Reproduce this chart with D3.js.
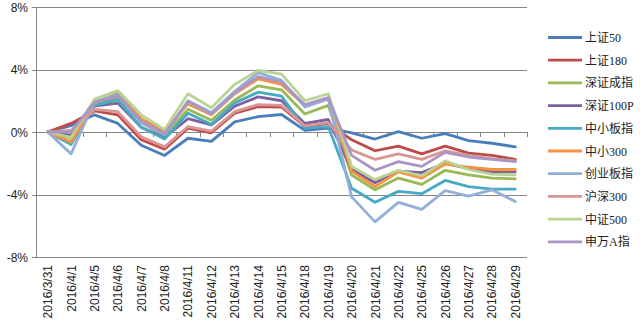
<!DOCTYPE html>
<html><head><meta charset="utf-8">
<script src="https://cdn.jsdelivr.net/npm/d3@7"></script>
<style>body{margin:0;background:#fff}svg{display:block}</style>
</head><body>
<svg id="c" width="640" height="323"></svg>
<script>
const categories = ["2016/3/31","2016/4/1","2016/4/5","2016/4/6","2016/4/7","2016/4/8","2016/4/11","2016/4/12","2016/4/13","2016/4/14","2016/4/15","2016/4/18","2016/4/19","2016/4/20","2016/4/21","2016/4/22","2016/4/25","2016/4/26","2016/4/27","2016/4/28","2016/4/29"];
const seriesNames = ["上证50","上证180","深证成指","深证100P","中小板指","中小300","创业板指","沪深300","中证500","申万A指"];
const seriesColors = ["#4A7EBB","#BE4B48","#98B954","#7D60A0","#46AAC5","#F69240","#93AFD8","#D99694","#B9D393","#A996C4"];
const yTicks = [-8,-4,0,4,8];

const sz50   = [0, 0.40, 1.10, 0.55, -0.85, -1.50, -0.40, -0.60, 0.65, 0.98, 1.12, 0.10, 0.25, -0.05, -0.45, 0.02, -0.40, -0.10, -0.55, -0.72, -0.95];
const sz180  = [0, 0.55, 1.35, 1.10, -0.50, -1.10, 0.25, -0.05, 1.20, 1.62, 1.60, 0.35, 0.55, -0.50, -1.20, -0.90, -1.40, -0.90, -1.35, -1.50, -1.75];
const szcz   = [0, -0.40, 1.80, 2.20, 0.60, -0.25, 1.45, 0.75, 2.05, 2.95, 2.70, 1.15, 1.70, -2.75, -3.70, -2.95, -3.35, -2.45, -2.75, -2.95, -3.00];
const sz100p = [0, -0.20, 1.65, 1.85, 0.30, -0.35, 0.85, 0.45, 1.65, 2.25, 2.00, 0.55, 0.80, -2.40, -3.25, -2.50, -2.60, -2.00, -2.35, -2.55, -2.55];
const zxb    = [0, -0.80, 1.70, 2.05, 0.30, -0.45, 1.20, 0.50, 1.85, 2.55, 2.30, 0.25, 0.35, -3.60, -4.50, -3.80, -3.95, -3.10, -3.50, -3.65, -3.65];
const zx300  = [0, -0.65, 1.85, 2.50, 0.85, 0.05, 1.80, 1.10, 2.45, 3.40, 3.05, 1.70, 2.15, -2.50, -3.50, -2.55, -2.95, -2.05, -2.25, -2.40, -2.40];
const cyb    = [0, -1.40, 1.95, 2.40, 0.60, -0.20, 2.00, 1.25, 2.60, 3.80, 3.30, 1.60, 2.10, -4.15, -5.75, -4.50, -4.95, -3.75, -4.10, -3.70, -4.45];
const hs300  = [0, 0.10, 1.45, 1.30, -0.30, -0.95, 0.35, 0.05, 1.30, 1.75, 1.70, 0.40, 0.60, -1.15, -1.75, -1.40, -1.75, -1.20, -1.50, -1.70, -1.85];
const zz500  = [0, -0.35, 2.10, 2.65, 1.10, 0.15, 2.45, 1.55, 3.05, 3.95, 3.70, 2.00, 2.45, -2.20, -3.05, -2.45, -2.80, -1.85, -2.40, -2.70, -2.75];
const swa    = [0, 0.00, 1.90, 2.30, 0.70, -0.10, 1.95, 1.15, 2.50, 3.55, 3.20, 1.75, 2.20, -1.50, -2.45, -1.90, -2.20, -1.30, -1.60, -1.75, -1.90];
const seriesValues = [sz50, sz180, szcz, sz100p, zxb, zx300, cyb, hs300, zz500, swa];

const svg = d3.select("#c");
const x = d3.scaleBand().domain(categories).range([36, 527]);
const y = d3.scaleLinear().domain([-8, 8]).range([257, 7]);
const cx = d => x(d) + x.bandwidth() / 2;
const grid = "#868686";

// gridlines
svg.append("g").selectAll("line").data(yTicks).join("line")
  .attr("x1", 32).attr("x2", 527)
  .attr("y1", d => Math.round(y(d)) + 0.5).attr("y2", d => Math.round(y(d)) + 0.5)
  .attr("stroke", grid).attr("stroke-width", 1);
// y axis line
svg.append("line").attr("x1", 36.5).attr("x2", 36.5).attr("y1", Math.round(y(8))).attr("y2", Math.round(y(-8)) + 1)
  .attr("stroke", grid);
// y labels
svg.append("g").selectAll("text").data(yTicks).join("text")
  .attr("x", 28).attr("y", d => y(d) + 4.5)
  .attr("text-anchor", "end")
  .attr("font-family", "Liberation Sans, Arial, sans-serif").attr("font-size", 12).attr("fill", "#222")
  .text(d => d + "%");
// x tick marks on zero line (category boundaries)
const bounds = categories.map(c => x(c)).concat([527]);
svg.append("g").selectAll("line").data(bounds.slice(1)).join("line")
  .attr("x1", d => Math.round(d) + 0.5).attr("x2", d => Math.round(d) + 0.5)
  .attr("y1", Math.round(y(0))).attr("y2", Math.round(y(0)) + 5)
  .attr("stroke", grid);
// x labels
svg.append("g").selectAll("text").data(categories).join("text")
  .attr("transform", d => `translate(${cx(d) + 4.5},265) rotate(-90)`)
  .attr("text-anchor", "end")
  .attr("font-family", "Liberation Sans, Arial, sans-serif").attr("font-size", 12).attr("fill", "#222")
  .text(d => d);

// lines
const line = d3.line().x((d, i) => cx(categories[i])).y(d => y(d));
svg.append("g").selectAll("path").data(seriesValues).join("path")
  .attr("d", d => line(d))
  .attr("fill", "none")
  .attr("stroke", (d, i) => seriesColors[i])
  .attr("stroke-width", 2.8)
  .attr("stroke-linejoin", "round").attr("stroke-linecap", "round");

// legend
const lg = svg.append("g").selectAll("g").data(seriesNames).join("g")
  .attr("transform", (d, i) => `translate(548,${37.5 + i * 22.7})`);
lg.append("line").attr("x1", 0).attr("x2", 34).attr("y1", 0).attr("y2", 0)
  .attr("stroke", (d, i) => seriesColors[i]).attr("stroke-width", 2.8);
lg.append("text").attr("x", 37).attr("y", 4.5)
  .attr("font-family", "Liberation Serif, 'Noto Sans CJK SC', serif").attr("font-size", 12).attr("fill", "#222")
  .text(d => d);
</script>
</body></html>
